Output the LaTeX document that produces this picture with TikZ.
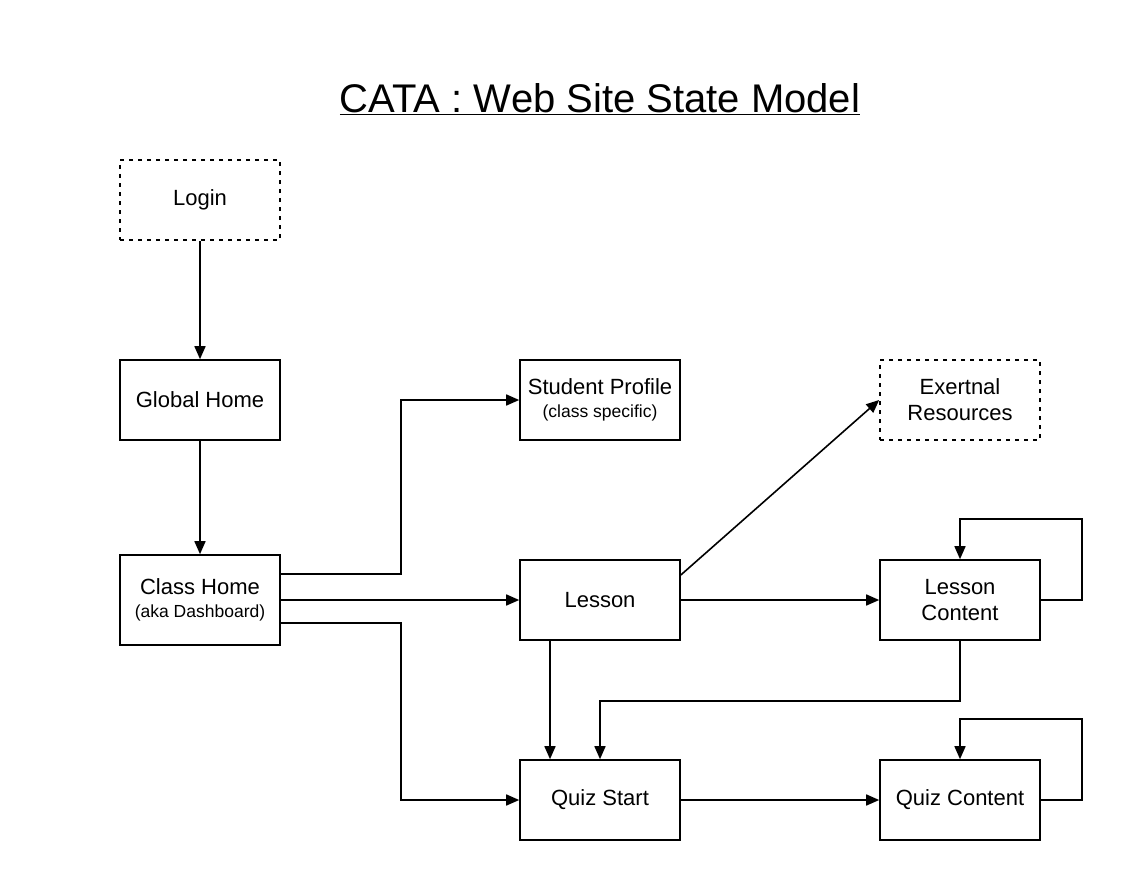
\documentclass[tikz,border=0pt]{standalone}
\usepackage{fontspec}
\setmainfont{Liberation Sans}
\usetikzlibrary{arrows.meta,calc}
\tikzset{
  box/.style={draw, line width=1.6pt, minimum width=160pt, minimum height=80pt, inner sep=0pt, align=center, font=\fontsize{22}{26}\selectfont},
  dotbox/.style={box, dash pattern=on 4pt off 5pt},
  arr/.style={line width=1.6pt, -{Triangle[length=13pt,width=11pt]}}
}
\newcommand{\subtxt}[1]{{\fontsize{17.5}{20}\selectfont #1}}
\begin{document}
\begin{tikzpicture}[x=1pt,y=-1pt]
\path[use as bounding box] (0,0) rectangle (1121,880);
\node[font=\fontsize{40}{44}\selectfont] (title) at (600,99) {\underline{CATA : Web Site State Model}};
\node[dotbox] (login) at (200,200) {Login};
\node[box] (gh) at (200,400) {Global Home};
\node[box, minimum height=90pt] (ch) at (200,600) {Class Home\\[-3pt]\subtxt{(aka Dashboard)}};
\node[box] (sp) at (600,400) {Student Profile\\[-3pt]\subtxt{(class specific)}};
\node[dotbox] (ext) at (960,400) {Exertnal\\Resources};
\node[box] (lesson) at (600,600) {Lesson};
\node[box] (lc) at (960,600) {Lesson\\Content};
\node[box] (qs) at (600,800) {Quiz Start};
\node[box] (qc) at (960,800) {Quiz Content};

\draw[arr] (login) -- (gh);
\draw[arr] (gh) -- (ch);
\draw[arr] ($(ch.east)+(0,-26)$) -- ++(120,0) |- (sp.west);
\draw[arr] (ch.east) -- (lesson.west);
\draw[arr] ($(ch.east)+(0,23)$) -- ++(120,0) |- (qs.west);
\draw[arr] ($(lesson.east)+(0,-25)$) -- (ext.west);
\draw[arr] (lesson) -- (lc);
\draw[arr] (lc.east) -- ++(41,0) -- ++(0,-81) -| (lc.north);
\draw[arr] (lc.south) -- ++(0,60) -| (qs.north);
\draw[arr] ($(lesson.south)+(-50,0)$) -- ($(qs.north)+(-50,0)$);
\draw[arr] (qs) -- (qc);
\draw[arr] (qc.east) -- ++(41,0) -- ++(0,-81) -| (qc.north);
\end{tikzpicture}
\end{document}
